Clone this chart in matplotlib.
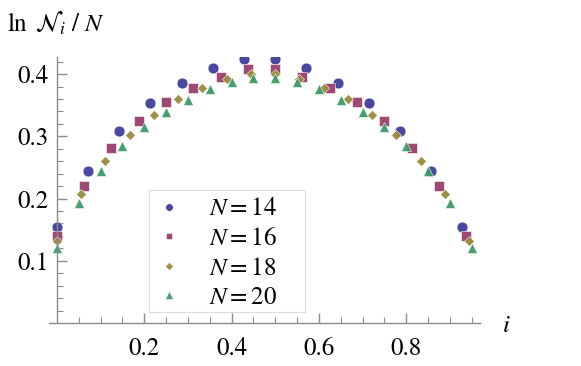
import numpy as np
import matplotlib
matplotlib.use("Agg")
import matplotlib.pyplot as plt
from matplotlib.patches import Rectangle

plt.rcParams["font.family"] = "STIXGeneral"
plt.rcParams["mathtext.fontset"] = "stix"

# ln N_i / N for each system size, i = k/N
n14 = [0.1545, 0.244, 0.309, 0.354, 0.3855, 0.4097, 0.4247,
       0.4247, 0.4097, 0.3855, 0.354, 0.309, 0.244, 0.1545]
n16 = [0.1395, 0.2203, 0.2806, 0.324, 0.3555, 0.3784, 0.396, 0.408,
       0.408, 0.396, 0.3784, 0.3555, 0.324, 0.2806, 0.2203, 0.1395]
n18 = [0.1315, 0.207, 0.2606, 0.302, 0.3345, 0.360, 0.3774, 0.392, 0.4005,
       0.4005, 0.392, 0.3774, 0.360, 0.3345, 0.302, 0.2606, 0.207, 0.1315]
n20 = [0.1206, 0.193, 0.2445, 0.285, 0.315, 0.339, 0.359, 0.376, 0.388, 0.3945,
       0.3945, 0.388, 0.376, 0.359, 0.339, 0.315, 0.285, 0.2445, 0.193, 0.1206]

series = [
	(14, n14, "o", "#3f3d99", 7.8),
	(16, n16, "s", "#993f6b", 6.7),
	(18, n18, "D", "#998a3d", 5.6),
	(20, n20, "^", "#3d9966", 7.4),
]

fig = plt.figure(figsize=(5.81, 3.66), dpi=100)
ax = fig.add_axes([0.0843, 0.1175, 0.7418, 0.7276])

for n, vals, mk, col, ms in series:
	i = np.arange(n) / n
	ax.plot(i, vals, ls="none", marker=mk, ms=ms, color=col,
		mec="white", mew=0.4, alpha=0.95, label=f"$N={n}$")

ax.set_xlim(-0.018, 0.969)
ax.set_ylim(0, 0.428)

for s in ["top", "right"]:
	ax.spines[s].set_visible(False)
ax.spines["left"].set_position(("data", 0))
for s in ["left", "bottom"]:
	ax.spines[s].set_color("#8c8c8c")
	ax.spines[s].set_linewidth(1.0)

ax.set_xticks([0.2, 0.4, 0.6, 0.8])
ax.set_xticks(np.arange(0.05, 0.96, 0.05), minor=True)
ax.set_yticks([0.1, 0.2, 0.3, 0.4])
ax.set_yticks(np.arange(0.02, 0.43, 0.02), minor=True)
ax.tick_params(which="both", direction="in", color="#8c8c8c", labelsize=18)
ax.tick_params(which="major", length=7, width=1.0)
ax.tick_params(which="minor", length=4, width=0.8)
ax.tick_params(axis="x", which="major", pad=10)
ax.tick_params(axis="y", which="major", pad=6)

fig.text(0.012, 0.935, r"$\ln\ \mathcal{N}_i\ /\ N$", fontsize=18, va="center", ha="left")
fig.text(0.872, 0.11, r"$i$", fontsize=18, va="center", ha="center")

# legend content without its own frame; the box is drawn separately (wider, like the original)
leg = ax.legend(loc="upper left", bbox_to_anchor=(0.232, 0.4995), borderaxespad=0,
	fontsize=18, frameon=False, handlelength=1.0, markerscale=0.7,
	handletextpad=1.1, labelspacing=0.22, borderpad=0.3)
ax.add_patch(Rectangle((0.232, 0.041), 0.362, 0.4585, transform=ax.transAxes,
	fill=False, ec="#dddddd", lw=0.8, zorder=4))

fig.savefig("out.png", dpi=100)
